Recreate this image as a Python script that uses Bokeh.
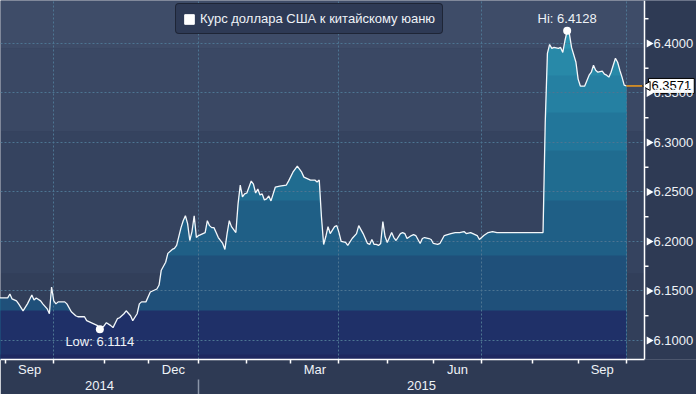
import numpy as np
from bokeh.plotting import figure
from bokeh.models import (Range1d, LinearAxis, FixedTicker, BoxAnnotation, Label,
                          Legend, LegendItem, Span)
from bokeh.core.properties import value
from bokeh.embed import file_html
from bokeh.resources import INLINE

# ---------------- data ----------------
DATES = [
    "2014-08-27", "2014-08-28", "2014-09-02", "2014-09-03", "2014-09-04", "2014-09-08",
    "2014-09-09", "2014-09-11", "2014-09-15", "2014-09-17", "2014-09-18", "2014-09-19",
    "2014-09-23", "2014-09-24", "2014-09-26", "2014-09-29", "2014-09-30", "2014-10-01",
    "2014-10-02", "2014-10-03", "2014-10-08", "2014-10-09", "2014-10-13", "2014-10-15",
    "2014-10-16", "2014-10-21", "2014-10-22", "2014-10-27", "2014-10-29", "2014-10-30",
    "2014-11-03", "2014-11-04", "2014-11-06", "2014-11-07", "2014-11-11", "2014-11-12",
    "2014-11-14", "2014-11-17", "2014-11-19", "2014-11-20", "2014-11-24", "2014-11-25",
    "2014-11-26", "2014-11-28", "2014-12-02", "2014-12-03", "2014-12-05", "2014-12-08",
    "2014-12-09", "2014-12-11", "2014-12-12", "2014-12-16", "2014-12-17", "2014-12-18",
    "2014-12-22", "2014-12-23", "2014-12-24", "2014-12-25", "2014-12-26", "2014-12-29",
    "2014-12-30", "2014-12-31", "2015-01-01", "2015-01-05", "2015-01-06", "2015-01-07",
    "2015-01-08", "2015-01-09", "2015-01-12", "2015-01-13", "2015-01-14", "2015-01-16",
    "2015-01-19", "2015-01-20", "2015-01-21", "2015-01-22", "2015-01-26", "2015-01-27",
    "2015-01-28", "2015-01-29", "2015-01-30", "2015-02-02", "2015-02-04", "2015-02-05",
    "2015-02-06", "2015-02-09", "2015-02-10", "2015-02-11", "2015-02-12", "2015-02-13",
    "2015-02-16", "2015-02-17", "2015-02-19", "2015-02-23", "2015-02-26", "2015-02-27",
    "2015-03-03", "2015-03-05", "2015-03-09", "2015-03-10", "2015-03-11", "2015-03-13",
    "2015-03-17", "2015-03-18", "2015-03-19", "2015-03-20", "2015-03-23", "2015-03-24",
    "2015-03-25", "2015-03-26", "2015-03-30", "2015-03-31", "2015-04-01", "2015-04-02",
    "2015-04-06", "2015-04-07", "2015-04-09", "2015-04-13", "2015-04-14", "2015-04-16",
    "2015-04-20", "2015-04-21", "2015-04-22", "2015-04-23", "2015-04-24", "2015-04-27",
    "2015-04-28", "2015-04-29", "2015-04-30", "2015-05-01", "2015-05-05", "2015-05-06",
    "2015-05-07", "2015-05-11", "2015-05-12", "2015-05-13", "2015-05-14", "2015-05-18",
    "2015-05-19", "2015-05-20", "2015-05-22", "2015-05-25", "2015-05-26", "2015-05-28",
    "2015-05-29", "2015-06-01", "2015-06-03", "2015-06-04", "2015-06-08", "2015-06-11",
    "2015-06-15", "2015-06-17", "2015-06-19", "2015-06-22", "2015-06-24", "2015-06-25",
    "2015-06-29", "2015-06-30", "2015-07-02", "2015-07-06", "2015-07-08", "2015-07-10",
    "2015-07-16", "2015-07-22", "2015-07-29", "2015-08-05", "2015-08-10", "2015-08-11",
    "2015-08-12", "2015-08-13", "2015-08-14", "2015-08-17", "2015-08-19", "2015-08-20",
    "2015-08-21", "2015-08-24", "2015-08-25", "2015-08-26", "2015-08-27", "2015-08-31",
    "2015-09-01", "2015-09-02", "2015-09-04", "2015-09-08", "2015-09-09", "2015-09-10",
    "2015-09-11", "2015-09-14", "2015-09-16", "2015-09-17", "2015-09-18", "2015-09-21",
    "2015-09-22", "2015-09-23", "2015-09-24", "2015-09-25", "2015-09-28", "2015-09-29",
    "2015-09-30", "2015-10-01",
]
RATES = [
    6.143, 6.143, 6.143, 6.147, 6.142, 6.140,
    6.137, 6.130, 6.137, 6.146, 6.141, 6.143,
    6.140, 6.137, 6.132, 6.127, 6.154, 6.140,
    6.137, 6.139, 6.139, 6.137, 6.129, 6.125,
    6.124, 6.124, 6.120, 6.117, 6.115, 6.1114,
    6.115, 6.118, 6.115, 6.113, 6.122, 6.123,
    6.127, 6.130, 6.125, 6.120, 6.127, 6.137,
    6.139, 6.139, 6.149, 6.150, 6.152, 6.156,
    6.171, 6.179, 6.188, 6.192, 6.193, 6.196,
    6.214, 6.221, 6.226, 6.218, 6.201, 6.210,
    6.226, 6.204, 6.206, 6.208, 6.209, 6.221,
    6.216, 6.214, 6.214, 6.209, 6.204, 6.198,
    6.192, 6.208, 6.221, 6.215, 6.209, 6.238,
    6.257, 6.245, 6.248, 6.249, 6.261, 6.258,
    6.249, 6.253, 6.247, 6.248, 6.242, 6.243,
    6.246, 6.241, 6.255, 6.256, 6.257, 6.261,
    6.270, 6.276, 6.270, 6.265, 6.264, 6.262,
    6.262, 6.260, 6.262, 6.225, 6.197, 6.205,
    6.215, 6.208, 6.215, 6.216, 6.209, 6.200,
    6.199, 6.196, 6.203, 6.208, 6.216, 6.208,
    6.198, 6.197, 6.202, 6.197, 6.197, 6.196,
    6.198, 6.220, 6.205, 6.199, 6.209, 6.204,
    6.201, 6.208, 6.209, 6.208, 6.203, 6.206,
    6.207, 6.206, 6.198, 6.203, 6.204, 6.203,
    6.202, 6.198, 6.197, 6.198, 6.206, 6.208,
    6.209, 6.209, 6.210, 6.208, 6.209, 6.208,
    6.206, 6.202, 6.206, 6.209, 6.210, 6.209,
    6.209, 6.209, 6.209, 6.209, 6.209, 6.320,
    6.390, 6.399, 6.395, 6.396, 6.395, 6.396,
    6.391, 6.403, 6.4128, 6.410, 6.396, 6.381,
    6.364, 6.357, 6.357, 6.368, 6.371, 6.378,
    6.373, 6.371, 6.372, 6.369, 6.368, 6.366,
    6.371, 6.378, 6.385, 6.381, 6.373, 6.366,
    6.358, 6.3571,
]
SERIES_NAME = "Курс доллара США к китайскому юаню"
HI_DATE, HI_VALUE = "2015-08-25", 6.4128
LOW_DATE, LOW_VALUE = "2014-10-30", 6.1114
LAST_DATE, LAST_VALUE = "2015-10-01", 6.3571

Y_TICKS = [6.10, 6.15, 6.20, 6.25, 6.30, 6.35, 6.40]
Y_MINOR = [6.125, 6.175, 6.225, 6.275, 6.325, 6.375, 6.425]
MONTH_STARTS = ["2014-09-01", "2014-10-01", "2014-11-01", "2014-12-01", "2015-01-01",
                "2015-02-01", "2015-03-01", "2015-04-01", "2015-05-01", "2015-06-01",
                "2015-07-01", "2015-08-01", "2015-09-01", "2015-10-01"]
MONTH_LABELS = {"2014-09-01": "Sep", "2014-12-01": "Dec", "2015-03-01": "Mar",
                "2015-06-01": "Jun", "2015-09-01": "Sep"}
GRID_DATES = ["2014-10-01", "2015-01-01", "2015-04-01", "2015-07-01", "2015-10-01"]
YEAR_BREAK = "2015-01-01"
YEAR_LABELS = ["2014", "2015"]

ORIGIN = "2014-09-01"


def bd(d):
    """business-day index (the chart's time axis skips weekends)"""
    return np.busday_count(ORIGIN, np.array(d, dtype="datetime64[D]")).astype(float)


xs = bd(DATES)
rates = np.array(RATES)

# ---------------- style / layout ----------------
W = 696
X_START, X_END = -2.28, 314.95      # full canvas width is the frame
X_AXIS = 291.25                      # where the value axis line sits
DX = (X_END - X_START) / W           # data units per pixel
Y_BOTTOM, Y_TOP = 6.0808, 6.4434
FONT = "Liberation Sans"
TXT = "#eef2f7"
BORDER_BG = "#2e3a54"

BG_BANDS = [(6.3949, Y_TOP, "#3e4c68"), (6.3111, 6.3949, "#3a4864"),
            (6.1677, 6.3111, "#35435f"), (Y_BOTTOM, 6.1677, "#323f5a")]
AREA_TOP = "#2b93b0"
AREA_BANDS = [(6.3949, "#2889a8"), (6.3677, "#2580a2"), (6.3303, "#22769a"),
              (6.2919, "#206c90"), (6.2414, "#1f5f86"), (6.1859, "#1f507a"),
              (6.1303, "#1f3068"), (6.0859, "#1e2860")]

p = figure(width=W, height=394, x_range=Range1d(X_START, X_END),
           y_range=Range1d(Y_BOTTOM, Y_TOP), output_backend="svg",
           toolbar_location=None, x_axis_location=None, y_axis_location=None,
           min_border=0, min_border_left=0, min_border_top=0, min_border_right=0,
           min_border_bottom=35,
           border_fill_color=BORDER_BG, background_fill_color="#323f5a",
           outline_line_color=None)

for lo, hi, c in BG_BANDS:
    p.add_layout(BoxAnnotation(bottom=lo, top=hi, fill_color=c, fill_alpha=1,
                               line_color=None, level="image"))

p.varea(x=xs, y1=Y_BOTTOM, y2=rates, fill_color=AREA_TOP, level="underlay")
for edge, c in AREA_BANDS:
    p.varea(x=xs, y1=Y_BOTTOM, y2=np.minimum(rates, edge), fill_color=c, level="underlay")

# grids
p.xgrid.ticker = FixedTicker(ticks=list(bd(GRID_DATES)))
p.ygrid.ticker = FixedTicker(ticks=Y_TICKS)
p.grid.grid_line_color = "#4d7592"
p.grid.grid_line_dash = "2 2"
p.grid.grid_line_width = 1
p.grid.level = "glyph"

# panel to the right of the value axis
p.add_layout(BoxAnnotation(left=X_AXIS, fill_color=BORDER_BG, fill_alpha=1,
                           line_color=None, level="guide"))

# line, markers, labels
p.line(xs, rates, line_color="#f4f7fa", line_width=1.3, level="guide")
p.scatter(x=bd([HI_DATE, LOW_DATE]), y=[HI_VALUE, LOW_VALUE], size=8,
          fill_color="white", line_color=None, level="guide")
p.text(x=bd([HI_DATE]), y=[HI_VALUE], text=[f"Hi: {HI_VALUE:.4f}"],
       text_font=value(FONT), text_font_size="13px", text_color=TXT,
       text_align="center", text_baseline="bottom", y_offset=-5, level="guide")
p.text(x=bd([LOW_DATE]), y=[LOW_VALUE], text=[f"Low: {LOW_VALUE:.4f}"],
       text_font=value(FONT), text_font_size="13px", text_color=TXT,
       text_align="center", text_baseline="top", y_offset=5, level="guide")
p.segment(x0=bd([LAST_DATE]), y0=[LAST_VALUE], x1=[X_AXIS], y1=[LAST_VALUE],
          line_color="#f39c1a", line_width=1.5, level="guide")

# value axis (right side)
p.add_layout(Span(location=X_AXIS, dimension="height", line_color="white",
                  line_width=1.5, level="overlay"))
p.ray(x=[X_AXIS] * len(Y_MINOR), y=Y_MINOR, length=4, length_units="screen",
      angle=0, line_color="white", line_width=1.5, level="overlay")
p.scatter(x=[X_AXIS + 4.5 * DX] * len(Y_TICKS), y=Y_TICKS, marker="triangle",
          angle=-np.pi / 2, size=8, fill_color="white", line_color=None,
          level="overlay")
p.text(x=[X_AXIS] * len(Y_TICKS), y=Y_TICKS, text=[f"{t:.4f}" for t in Y_TICKS],
       x_offset=9, text_font=value(FONT), text_font_size="13px", text_color=TXT,
       text_align="left", text_baseline="middle", level="overlay")

# price tag
p.scatter(x=[X_AXIS + 3 * DX], y=[LAST_VALUE], marker="triangle", angle=np.pi / 2,
          size=9, fill_color="white", line_color="black", line_width=1,
          level="overlay")
p.add_layout(Label(x=X_AXIS, y=LAST_VALUE, x_offset=4, text=f"{LAST_VALUE:.4f}",
                   text_font=FONT, text_font_size="13px", text_color="black",
                   text_align="left", text_baseline="middle",
                   background_fill_color="white", border_line_color="black",
                   padding=3))

# bottom axes: month ticks + labels, then years
starts = bd(MONTH_STARTS)
mids = [(starts[i] + starts[i + 1]) / 2 for i in range(len(starts) - 1)]
label_mids = [mids[i] for i, d in enumerate(MONTH_STARTS[:-1]) if d in MONTH_LABELS]
label_txt = [MONTH_LABELS[d] for d in MONTH_STARTS[:-1] if d in MONTH_LABELS]
xax1 = LinearAxis(ticker=FixedTicker(ticks=label_mids, minor_ticks=list(starts)),
                  major_label_overrides={m: t for m, t in zip(label_mids, label_txt)},
                  bounds=(X_START, X_AXIS),
                  axis_line_color="white", axis_line_width=1.5,
                  major_tick_out=0, major_tick_in=0,
                  minor_tick_out=4, minor_tick_in=0, minor_tick_line_color="white",
                  minor_tick_line_width=1.5, major_label_standoff=-2,
                  major_label_text_font=FONT, major_label_text_font_size="13px",
                  major_label_text_color=TXT)
p.add_layout(xax1, "below")

brk = float(bd([YEAR_BREAK])[0])
year_mids = [(X_START + brk) / 2, (brk + X_AXIS) / 2]
xax2 = LinearAxis(ticker=FixedTicker(ticks=year_mids, minor_ticks=[brk]),
                  major_label_overrides={m: t for m, t in zip(year_mids, YEAR_LABELS)},
                  axis_line_color=None, major_tick_out=0, major_tick_in=0,
                  minor_tick_out=18, minor_tick_in=0, minor_tick_line_color="#8b95a8",
                  minor_tick_line_width=1.5, major_label_standoff=-17,
                  major_label_text_font=FONT, major_label_text_font_size="13px",
                  major_label_text_color=TXT)
p.add_layout(xax2, "below")

# legend (white square key)
key = p.quad(left=[np.nan], right=[np.nan], top=[np.nan], bottom=[np.nan],
             fill_color="white", line_color="white")
legend = Legend(items=[LegendItem(label=SERIES_NAME, renderers=[key], index=0)],
                location=(175, 325), background_fill_color="#2e3a55",
                background_fill_alpha=1, border_line_color="#0d1018",
                border_line_width=1.5, label_text_color=TXT, label_text_font=FONT,
                label_text_font_size="13px", glyph_width=12, glyph_height=12,
                padding=7, margin=0, label_standoff=5)
try:
    legend.border_radius = 4
except Exception:
    pass
p.add_layout(legend)

open("out.html", "w").write(file_html(p, INLINE))
